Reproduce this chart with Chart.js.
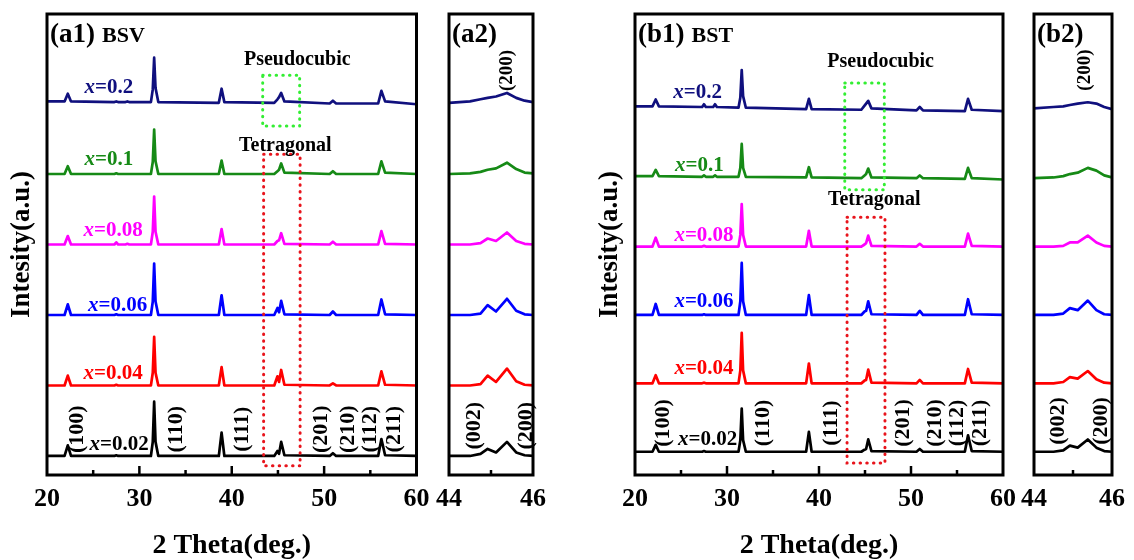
<!DOCTYPE html>
<html>
<head>
<meta charset="utf-8">
<script src="https://cdn.jsdelivr.net/npm/chart.js@4.4.1/dist/chart.umd.min.js"></script>
<style>
  html, body { margin: 0; padding: 0; background: #fff; }
  #wrap { position: relative; width: 1134px; height: 560px; overflow: hidden; }
  canvas { position: absolute; top: 0; }
</style>
</head>
<body>
<div id="wrap">
  <canvas id="a1" width="440" height="560" style="left:0px"></canvas>
  <canvas id="a2" width="130" height="560" style="left:425px"></canvas>
  <canvas id="b1" width="435" height="560" style="left:590px"></canvas>
  <canvas id="b2" width="124" height="560" style="left:1010px"></canvas>
</div>
<script>
// samples, bottom to top
const samples = ['0.02', '0.04', '0.06', '0.08', '0.1', '0.2'];
const colors = ['#000000', '#ff0000', '#0000ff', '#ff00ff', '#168a16', '#10107e'];
const stackStep = 1;

const wideTicks = [20, 30, 40, 50, 60];
const narrowTicks = [44, 46];

// 2 theta points (20-60)
const wideTheta = [20, 21.9, 22.25, 22.6, 27.3, 27.5, 27.7, 28.5, 28.7, 28.9, 31.25, 31.45, 31.6, 31.75, 32.05,
  38.6, 38.9, 39.2, 44.6, 44.95, 45.12, 45.35, 45.7, 50.6, 50.95, 51.3, 55.85, 56.2, 56.6, 60];

// BSV intensities (a.u., baseline 0)
const bsv002 = [0, 0, 0.15, 0, 0, 0.01, 0, 0, 0, 0, 0, 0.2, 0.77, 0.2, 0, 0, 0.33, 0, 0, 0.07, 0.03, 0.2, 0.01, 0, 0.04, 0, 0, 0.24, 0.01, 0];
const bsv004 = [0, 0, 0.14, 0, 0, 0.01, 0, 0, 0, 0, 0, 0.18, 0.69, 0.18, 0, 0, 0.26, 0, 0, 0.13, 0.05, 0.22, 0.01, 0, 0.03, 0, 0, 0.2, 0.01, 0];
const bsv006 = [0, 0, 0.15, 0, 0, 0.01, 0, 0, 0, 0, 0, 0.19, 0.73, 0.19, 0, 0, 0.28, 0, 0, 0.1, 0.04, 0.2, 0.01, 0, 0.05, 0, 0, 0.22, 0.01, 0];
const bsv008 = [0, 0, 0.12, 0, 0, 0.03, 0, 0, 0.01, 0, 0, 0.18, 0.68, 0.18, 0, 0, 0.22, 0, 0, 0.05, 0.06, 0.16, 0.01, 0, 0.04, 0, 0, 0.19, 0.01, 0];
const bsv010 = [0, 0, 0.11, 0, 0, 0.01, 0, 0, 0, 0, 0, 0.17, 0.63, 0.18, 0, 0, 0.19, 0, 0, 0.04, 0.06, 0.15, 0.02, 0, 0.04, 0, 0, 0.18, 0.02, 0];
const bsv020 = [0.03, 0.03, 0.14, 0.03, 0.02, 0.03, 0.02, 0.02, 0.03, 0.02, 0.02, 0.2, 0.65, 0.22, 0.02, 0.01, 0.21, 0.02, 0.01, 0.06, 0.09, 0.15, 0.03, 0, 0.04, 0, 0, 0.18, 0.03, -0.01];

// BST intensities
const bst002 = [0, 0, 0.1, 0, 0, 0.01, 0, 0, 0, 0, 0, 0.17, 0.63, 0.17, 0, 0, 0.29, 0, 0, 0.03, 0.04, 0.18, 0.01, 0, 0.04, 0, 0, 0.24, 0.01, 0];
const bst004 = [0, 0, 0.12, 0, 0, 0.01, 0, 0, 0, 0, 0, 0.19, 0.74, 0.19, 0, 0, 0.29, 0, 0, 0.04, 0.05, 0.2, 0.01, 0, 0.05, 0, 0, 0.21, 0.01, 0];
const bst006 = [0, 0, 0.16, 0, 0, 0.01, 0, 0, 0, 0, 0, 0.2, 0.76, 0.2, 0, 0, 0.29, 0, 0, 0.05, 0.06, 0.2, 0.01, 0, 0.06, 0, 0, 0.23, 0.01, 0];
const bst008 = [0, 0, 0.13, 0, 0, 0.01, 0, 0, 0, 0, 0, 0.17, 0.62, 0.17, 0, 0, 0.23, 0, 0, 0.03, 0.05, 0.16, 0.01, 0, 0.04, 0, 0, 0.19, 0.01, 0];
const bst010 = [0.03, 0.03, 0.12, 0.03, 0.02, 0.04, 0.02, 0.02, 0.04, 0.02, 0.02, 0.15, 0.5, 0.15, 0.02, 0.01, 0.16, 0.01, 0, 0.04, 0.06, 0.14, 0.01, 0, 0.04, 0, -0.01, 0.15, 0, -0.02];
const bst020 = [0.05, 0.05, 0.15, 0.05, 0.04, 0.08, 0.04, 0.04, 0.08, 0.04, 0.03, 0.18, 0.58, 0.2, 0.03, 0.01, 0.16, 0.01, 0, 0.06, 0.09, 0.13, 0.02, -0.01, 0.04, -0.01, -0.02, 0.16, 0, -0.02];

// zoomed (200) region, 44-46
const narrowTheta = [44, 44.5, 44.75, 44.92, 45.12, 45.38, 45.6, 45.8, 46];
const bsvZoom002 = [0, 0, 0.03, 0.1, 0.05, 0.2, 0.05, 0.01, 0];
const bsvZoom004 = [0, 0, 0.02, 0.14, 0.05, 0.24, 0.06, 0.01, 0];
const bsvZoom006 = [0, 0, 0.02, 0.14, 0.05, 0.23, 0.06, 0.01, 0];
const bsvZoom008 = [0, 0, 0.02, 0.085, 0.05, 0.17, 0.05, 0.01, 0];
const bsvZoom010 = [0, 0.01, 0.03, 0.06, 0.08, 0.16, 0.07, 0.02, 0.01];
const bsvZoom020 = [0.01, 0.03, 0.06, 0.08, 0.1, 0.15, 0.08, 0.04, 0.02];
const bstZoom002 = [0, 0, 0.02, 0.09, 0.06, 0.18, 0.06, 0.01, 0];
const bstZoom004 = [0, 0, 0.02, 0.09, 0.07, 0.18, 0.06, 0.01, 0];
const bstZoom006 = [0, 0, 0.02, 0.1, 0.07, 0.21, 0.07, 0.01, 0];
const bstZoom008 = [0, 0, 0.01, 0.06, 0.06, 0.16, 0.06, 0.01, 0];
const bstZoom010 = [0, 0.01, 0.03, 0.06, 0.08, 0.15, 0.11, 0.04, 0.01];
const bstZoom020 = [0.02, 0.04, 0.05, 0.07, 0.09, 0.11, 0.09, 0.04, 0.01];

const hklWide = ['(100)', '(110)', '(111)', '(201)', '(210)', '(112)', '(211)'];
const hklNarrow = ['(002)', '(200)'];

const FONT = '"Liberation Serif", "Times New Roman", serif';
const font = (size, italic) => (italic ? 'italic ' : '') + 'bold ' + size + 'px ' + FONT;

const decor = {
  id: 'decor',
  afterDatasetsDraw(chart) {
    const p = chart.options.plugins.decor;
    const { ctx, chartArea: ca } = chart;
    const x = chart.scales.x, y = chart.scales.y;
    ctx.save();

    // dotted phase boxes
    ctx.lineWidth = 3;
    ctx.lineCap = 'round';
    ctx.setLineDash([0.5, 6.2]);
    (p.boxes || []).forEach(b => {
      const x0 = x.getPixelForValue(b.x0), x1 = x.getPixelForValue(b.x1);
      const y0 = y.getPixelForValue(b.y0), y1 = y.getPixelForValue(b.y1);
      ctx.strokeStyle = b.color;
      ctx.strokeRect(x0, y1, x1 - x0, y0 - y1);
    });
    ctx.setLineDash([]);
    ctx.lineCap = 'butt';

    // frame + inward ticks
    ctx.strokeStyle = '#000';
    ctx.lineWidth = 3;
    ctx.strokeRect(ca.left, ca.top, ca.width, ca.height);
    ctx.lineWidth = 2.5;
    for (let v = x.min + p.minor; v < x.max - 1e-6; v += p.minor) {
      const px = x.getPixelForValue(v);
      const major = Math.abs(v / p.major - Math.round(v / p.major)) < 1e-6;
      ctx.beginPath();
      ctx.moveTo(px, ca.bottom);
      ctx.lineTo(px, ca.bottom - (major ? 9 : 5));
      ctx.stroke();
    }

    ctx.fillStyle = '#000';
    ctx.textBaseline = 'alphabetic';
    ctx.textAlign = 'left';
    ctx.font = font(27);
    ctx.fillText(p.tag, ca.left + 3, ca.top + 28);
    if (p.name) {
      const w = ctx.measureText(p.tag).width;
      ctx.font = font(22);
      ctx.fillText(p.name, ca.left + 3 + w + 7, ca.top + 28);
    }

    ctx.textAlign = 'center';
    ctx.textBaseline = 'middle';
    (p.notes || []).forEach(n => {
      ctx.font = font(20);
      ctx.fillText(n.text, x.getPixelForValue(n.x), y.getPixelForValue(n.y));
    });

    // sample labels  x=...
    (p.sampleX || []).forEach((lx, i) => {
      const cy = y.getPixelForValue(i * stackStep + p.sampleDy[i]);
      ctx.font = font(21, true);
      const wx = ctx.measureText('x').width;
      ctx.font = font(21);
      const rest = '=' + samples[i];
      const wr = ctx.measureText(rest).width;
      const sx = x.getPixelForValue(lx) - (wx + wr) / 2;
      ctx.fillStyle = colors[i];
      ctx.textAlign = 'left';
      ctx.font = font(21, true);
      ctx.fillText('x', sx, cy);
      ctx.font = font(21);
      ctx.fillText(rest, sx + wx, cy);
    });

    // rotated reflection indices
    ctx.fillStyle = '#000';
    ctx.textAlign = 'center';
    (p.hkl || []).forEach(h => {
      ctx.save();
      ctx.translate(x.getPixelForValue(h.x), y.getPixelForValue(h.y));
      ctx.rotate(-Math.PI / 2);
      ctx.font = font(h.size || 22);
      ctx.fillText(h.text, 0, 0);
      ctx.restore();
    });
    ctx.restore();
  }
};

function traces(theta, series) {
  return series.map((vals, i) => ({
    data: theta.map((t, k) => ({ x: t, y: vals[k] + i * stackStep })),
    borderColor: colors[i],
    borderWidth: 2.7,
    borderJoinStyle: 'round',
    pointRadius: 0,
    tension: 0,
    fill: false
  }));
}

function panel(id, cfg) {
  new Chart(document.getElementById(id), {
    type: 'line',
    data: { datasets: traces(cfg.theta, cfg.series) },
    plugins: [decor],
    options: {
      responsive: false,
      animation: false,
      layout: { padding: { left: cfg.padLeft, right: cfg.padRight, top: 14, bottom: 0 } },
      plugins: {
        legend: { display: false },
        tooltip: { enabled: false },
        decor: cfg.decor
      },
      scales: {
        x: {
          type: 'linear',
          min: cfg.ticks[0],
          max: cfg.ticks[cfg.ticks.length - 1],
          afterBuildTicks: s => { s.ticks = cfg.ticks.map(v => ({ value: v })); },
          afterFit: s => { s.height = 85; },
          grid: { display: false, drawTicks: false },
          border: { display: false },
          ticks: { padding: 9, color: '#000', autoSkip: false, maxRotation: 0,
                   font: { family: FONT, size: 26, weight: 'bold', lineHeight: 1.2 } },
          title: {
            display: !!cfg.xTitle, text: '2 Theta(deg.)', color: '#000',
            font: { family: FONT, size: 28, weight: 'bold', lineHeight: 1 },
            padding: { top: 0, bottom: 0 }
          }
        },
        y: {
          min: cfg.yMin,
          max: cfg.yMax,
          display: !!cfg.yWidth,
          afterFit: s => { s.width = cfg.yWidth || 0; },
          ticks: { display: false },
          grid: { display: false },
          border: { display: false },
          title: {
            display: true, text: 'Intesity(a.u.)', color: '#000',
            font: { family: FONT, size: 27, weight: 'bold', lineHeight: 1 },
            padding: { top: cfg.yTitlePad || 0, bottom: 0 }
          }
        }
      }
    }
  });
}

panel('a1', {
  theta: wideTheta, series: [bsv002, bsv004, bsv006, bsv008, bsv010, bsv020], ticks: wideTicks,
  yMin: -0.27, yMax: 6.27, yWidth: 47, yTitlePad: 8.5, padLeft: 0, padRight: 23.5, xTitle: true,
  decor: {
    tag: '(a1)', name: 'BSV', major: 10, minor: 5,
    boxes: [
      { x0: 43.35, x1: 47.35, y0: 4.68, y1: 5.40, color: '#33ee33' },
      { x0: 43.45, x1: 47.4, y0: -0.14, y1: 4.28, color: '#e8141c' }
    ],
    notes: [{ text: 'Pseudocubic', x: 47.1, y: 5.62 }, { text: 'Tetragonal', x: 45.8, y: 4.40 }],
    sampleX: [27.8, 27.15, 27.65, 27.15, 26.7, 26.7],
    sampleDy: [0.16, 0.17, 0.14, 0.2, 0.2, 0.23],
    hkl: [23.3, 33.95, 41.1, 49.7, 52.65, 55.0, 57.6].map((t, i) => ({ text: hklWide[i], x: t, y: 0.38 }))
  }
});

panel('a2', {
  theta: narrowTheta, series: [bsvZoom002, bsvZoom004, bsvZoom006, bsvZoom008, bsvZoom010, bsvZoom020], ticks: narrowTicks,
  yMin: -0.27, yMax: 6.27, padLeft: 24, padRight: 20.5,
  decor: {
    tag: '(a2)', major: 2, minor: 1,
    hkl: [
      { text: hklNarrow[0], x: 44.6, y: 0.43 },
      { text: hklNarrow[1], x: 45.85, y: 0.43 },
      { text: hklNarrow[1], x: 45.39, y: 5.47, size: 19 }
    ]
  }
});

panel('b1', {
  theta: wideTheta, series: [bst002, bst004, bst006, bst008, bst010, bst020], ticks: wideTicks,
  yMin: -0.34, yMax: 6.4, yWidth: 45, yTitlePad: 6.5, padLeft: 0, padRight: 22, xTitle: true,
  decor: {
    tag: '(b1)', name: 'BST', major: 10, minor: 5,
    boxes: [
      { x0: 42.8, x1: 47.1, y0: 3.83, y1: 5.39, color: '#33ee33' },
      { x0: 43.05, x1: 47.17, y0: -0.165, y1: 3.43, color: '#e8141c' }
    ],
    notes: [{ text: 'Pseudocubic', x: 46.7, y: 5.70 }, { text: 'Tetragonal', x: 46.0, y: 3.68 }],
    sampleX: [27.9, 27.5, 27.5, 27.5, 27.0, 26.8],
    sampleDy: [0.18, 0.22, 0.2, 0.16, 0.18, 0.25],
    hkl: [23.1, 33.9, 41.3, 49.2, 52.6, 55.05, 57.5].map((t, i) => ({ text: hklWide[i], x: t, y: 0.42 }))
  }
});

panel('b2', {
  theta: narrowTheta, series: [bstZoom002, bstZoom004, bstZoom006, bstZoom008, bstZoom010, bstZoom020], ticks: narrowTicks,
  yMin: -0.34, yMax: 6.4, padLeft: 24, padRight: 15.5,
  decor: {
    tag: '(b2)', major: 2, minor: 1,
    hkl: [
      { text: hklNarrow[0], x: 44.62, y: 0.45 },
      { text: hklNarrow[1], x: 45.72, y: 0.45 },
      { text: hklNarrow[1], x: 45.32, y: 5.58, size: 19 }
    ]
  }
});
</script>
</body>
</html>
